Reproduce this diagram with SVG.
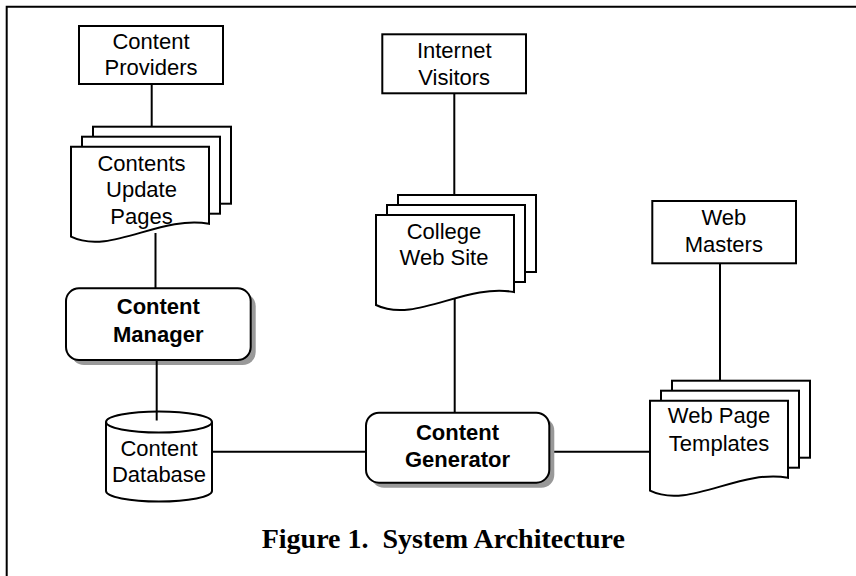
<svg xmlns="http://www.w3.org/2000/svg" xmlns:xlink="http://www.w3.org/1999/xlink" width="856" height="576" viewBox="0 0 856 576">
<style>
.box{fill:#fff;stroke:#000;stroke-width:2}
.shadow{fill:#999;stroke:none}
.line{stroke:#000;stroke-width:2;fill:none}
.lbl{font-family:"Liberation Sans",Arial,sans-serif;font-size:22px;text-anchor:middle;fill:#000}
.bold{font-weight:bold}
.cap{font-family:"Liberation Serif","Times New Roman",serif;font-size:28px;font-weight:bold;text-anchor:middle;fill:#000}
</style>
<defs>
<g id="docstack">
<rect class="box" x="22" y="-20" width="138" height="77"/>
<rect class="box" x="11" y="-10" width="138" height="77"/>
<path class="box" d="M0,0 H138 V77 C89,68 39,109 0,90 Z"/>
</g>
</defs>
<rect x="0" y="0" width="856" height="576" fill="#fff"/>
<path class="line" d="M6.7,576 V6.7 H856"/>

<g id="connectors">
<line class="line" x1="151.7" y1="84" x2="151.7" y2="127.7"/>
<line class="line" x1="155.5" y1="233" x2="155.5" y2="288"/>
<line class="line" x1="454.3" y1="93.3" x2="454.3" y2="195.7"/>
<line class="line" x1="454.7" y1="297" x2="454.7" y2="412.7"/>
<line class="line" x1="720" y1="263.3" x2="720" y2="380"/>
<line class="line" x1="212.3" y1="451.7" x2="366" y2="451.7"/>
<line class="line" x1="549.3" y1="451.7" x2="650" y2="451.7"/>
</g>

<g id="content-providers">
<rect class="box" x="79" y="26" width="144" height="58"/>
<text class="lbl" x="151" y="49.3">Content</text>
<text class="lbl" x="151" y="75">Providers</text>
</g>

<g id="internet-visitors">
<rect class="box" x="382.3" y="34.3" width="143.7" height="59"/>
<text class="lbl" x="454.2" y="58.3">Internet</text>
<text class="lbl" x="454.2" y="85">Visitors</text>
</g>

<g id="web-masters">
<rect class="box" x="652.3" y="201" width="143.7" height="62.3"/>
<text class="lbl" x="723.8" y="225">Web</text>
<text class="lbl" x="723.8" y="251.7">Masters</text>
</g>

<g id="contents-update-pages">
<use xlink:href="#docstack" href="#docstack" transform="translate(71,146.7)"/>
<text class="lbl" x="141.5" y="170.5">Contents</text>
<text class="lbl" x="141.5" y="197.3">Update</text>
<text class="lbl" x="141.5" y="224.2">Pages</text>
</g>

<g id="college-web-site">
<use xlink:href="#docstack" href="#docstack" transform="translate(376,215)"/>
<text class="lbl" x="444" y="239.3">College</text>
<text class="lbl" x="444" y="265">Web Site</text>
</g>

<g id="web-page-templates">
<use xlink:href="#docstack" href="#docstack" transform="translate(650,400.7)"/>
<text class="lbl" x="719" y="422.7">Web Page</text>
<text class="lbl" x="719" y="450.7">Templates</text>
</g>

<g id="content-manager">
<rect class="shadow" x="71" y="293.3" width="184.7" height="71.7" rx="13"/>
<rect class="box" x="66" y="288.3" width="184.7" height="71.7" rx="13"/>
<text class="lbl bold" x="158.3" y="314.3">Content</text>
<text class="lbl bold" x="158.3" y="341.7">Manager</text>
</g>

<g id="content-database">
<path class="box" d="M106,422 A53,10.5 0 0 1 212,422 V491 A53,10.5 0 0 1 106,491 Z"/>
<path class="line" d="M106,422 A53,10.5 0 0 0 212,422"/>
<line class="line" x1="156.7" y1="360" x2="156.7" y2="420.5"/>
<text class="lbl" x="159" y="456">Content</text>
<text class="lbl" x="159" y="481.7">Database</text>
</g>

<g id="content-generator">
<rect class="shadow" x="371" y="417.7" width="183.3" height="70" rx="13"/>
<rect class="box" x="366" y="412.7" width="183.3" height="70" rx="13"/>
<text class="lbl bold" x="457.5" y="440">Content</text>
<text class="lbl bold" x="457.5" y="466.7">Generator</text>
</g>

<text class="cap" x="443.3" y="548" xml:space="preserve">Figure 1.  System Architecture</text>
</svg>
